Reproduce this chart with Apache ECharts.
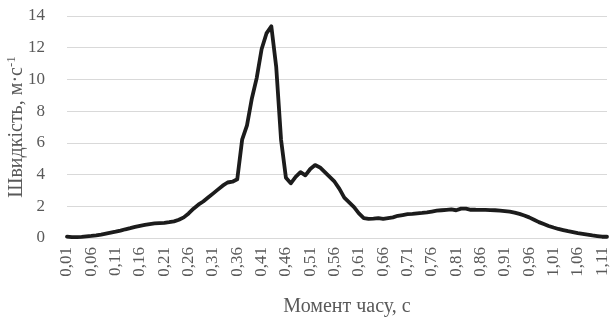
<!DOCTYPE html>
<html>
<head>
<meta charset="utf-8">
<script src="https://cdn.jsdelivr.net/npm/echarts@6/dist/echarts.min.js"></script>
<style>
  html, body { margin: 0; padding: 0; background: #fff; }
  #chart { width: 610px; height: 320px; }
</style>
</head>
<body>
<div id="chart"></div>
<script>
// Time moments, s (0,01 … 1,12)
const timeLabels = [
  '0,01','0,02','0,03','0,04','0,05','0,06','0,07','0,08','0,09','0,10',
  '0,11','0,12','0,13','0,14','0,15','0,16','0,17','0,18','0,19','0,20',
  '0,21','0,22','0,23','0,24','0,25','0,26','0,27','0,28','0,29','0,30',
  '0,31','0,32','0,33','0,34','0,35','0,36','0,37','0,38','0,39','0,40',
  '0,41','0,42','0,43','0,44','0,45','0,46','0,47','0,48','0,49','0,50',
  '0,51','0,52','0,53','0,54','0,55','0,56','0,57','0,58','0,59','0,60',
  '0,61','0,62','0,63','0,64','0,65','0,66','0,67','0,68','0,69','0,70',
  '0,71','0,72','0,73','0,74','0,75','0,76','0,77','0,78','0,79','0,80',
  '0,81','0,82','0,83','0,84','0,85','0,86','0,87','0,88','0,89','0,90',
  '0,91','0,92','0,93','0,94','0,95','0,96','0,97','0,98','0,99','1,00',
  '1,01','1,02','1,03','1,04','1,05','1,06','1,07','1,08','1,09','1,10',
  '1,11','1,12'
];

// Speed, m/s
const speed = [
  0.08, 0.05, 0.05, 0.07, 0.10, 0.13, 0.17, 0.22, 0.28, 0.34,
  0.40, 0.47, 0.55, 0.62, 0.70, 0.77, 0.83, 0.88, 0.92, 0.94,
  0.96, 1.00, 1.05, 1.15, 1.30, 1.55, 1.85, 2.10, 2.30, 2.55,
  2.80, 3.05, 3.30, 3.50, 3.55, 3.70, 6.20, 7.10, 8.80, 10.10,
  11.90, 12.90, 13.35, 10.80, 6.20, 3.80, 3.45, 3.85, 4.15, 3.95,
  4.35, 4.60, 4.45, 4.15, 3.85, 3.55, 3.10, 2.55, 2.25, 1.95,
  1.55, 1.25, 1.20, 1.22, 1.25, 1.20, 1.25, 1.30, 1.40, 1.45,
  1.50, 1.52, 1.55, 1.58, 1.62, 1.67, 1.72, 1.75, 1.78, 1.80,
  1.75, 1.85, 1.85, 1.78, 1.78, 1.77, 1.77, 1.76, 1.75, 1.73,
  1.70, 1.66, 1.60, 1.52, 1.42, 1.30, 1.15, 1.00, 0.88, 0.76,
  0.66, 0.57, 0.50, 0.43, 0.37, 0.31, 0.26, 0.21, 0.16, 0.12,
  0.08, 0.08
];

const yTicks = { min: 0, max: 14, step: 2 };

const font = '"Liberation Serif", "DejaVu Serif", serif';
const textColor = '#595959';

const chart = echarts.init(document.getElementById('chart'), null, { renderer: 'canvas' });

chart.setOption({
  animation: false,
  grid: {
    left: 67, right: 3, top: 16, bottom: 82,
    containLabel: false,
    outerBoundsMode: 'none'
  },
  xAxis: {
    type: 'category',
    data: timeLabels,
    boundaryGap: false,
    name: 'Момент часу, с',
    nameLocation: 'middle',
    nameGap: 59,
    nameMoveOverlap: false,
    nameTextStyle: { fontFamily: font, fontSize: 20, color: textColor, padding: [0, 0, 0, 20] },
    axisLine: { lineStyle: { color: '#d9d9d9', width: 1 } },
    axisTick: { show: false },
    axisLabel: {
      interval: 4,
      rotate: 90,
      margin: 9,
      fontFamily: font,
      fontSize: 17,
      color: textColor
    },
    splitLine: { show: false }
  },
  yAxis: {
    type: 'value',
    min: yTicks.min,
    max: yTicks.max,
    interval: yTicks.step,
    name: '{a|Швидкість, м·с}{s|-1}',
    nameLocation: 'middle',
    nameGap: 51,
    nameMoveOverlap: false,
    nameRotate: 90,
    nameTextStyle: {
      align: 'center',
      verticalAlign: 'middle',
      rich: {
        a: { fontFamily: font, fontSize: 20, color: textColor, verticalAlign: 'bottom' },
        s: { fontFamily: font, fontSize: 13, color: textColor, verticalAlign: 'top', padding: [0, 0, 9, 0] }
      }
    },
    axisLine: { show: false },
    axisTick: { show: false },
    axisLabel: { margin: 22, fontFamily: font, fontSize: 17, color: textColor },
    splitLine: { lineStyle: { color: '#d9d9d9', width: 1 } }
  },
  series: [{
    type: 'line',
    data: speed,
    showSymbol: false,
    smooth: false,
    lineStyle: { color: '#1c1c1c', width: 3.8, join: 'round', cap: 'round' }
  }]
});
</script>
</body>
</html>
